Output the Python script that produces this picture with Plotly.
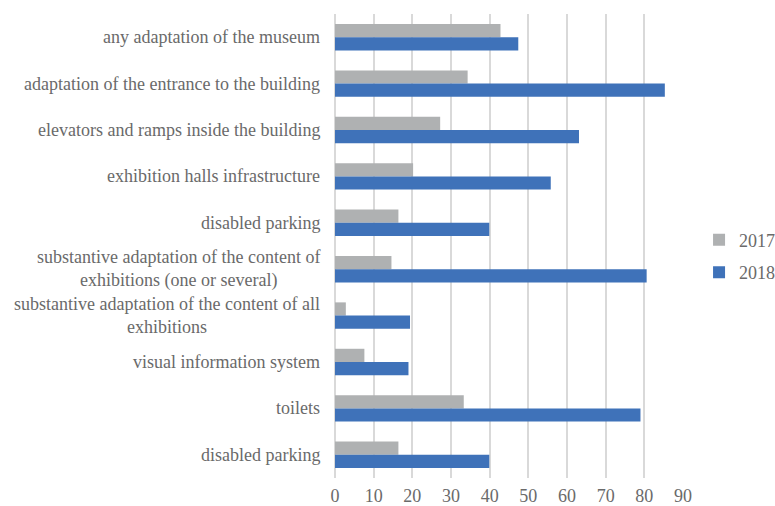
import plotly.graph_objects as go

categories = [
    "any adaptation of the museum",
    "adaptation of the entrance to the building",
    "elevators and ramps inside the building",
    "exhibition halls infrastructure",
    "disabled parking",
    "substantive adaptation of the content of<br>exhibitions (one or several)",
    "substantive adaptation of the content of all<br>exhibitions",
    "visual information system",
    "toilets",
    "disabled parking",
]
values_2017 = [42.8, 34.3, 27.2, 20.2, 16.4, 14.6, 2.8, 7.6, 33.3, 16.4]
values_2018 = [47.4, 85.3, 63.1, 55.8, 39.9, 80.6, 19.4, 19.0, 79.0, 39.9]
x_ticks = [0, 10, 20, 30, 40, 50, 60, 70, 80, 90]

positions = list(range(len(categories)))
FONT = "Liberation Serif"
TXT = "#6A6A6A"
FS = 18

fig = go.Figure()
fig.add_trace(go.Bar(y=positions, x=values_2017, orientation="h", name="2017",
                     marker=dict(color="#AFB1B2", line=dict(width=0)), legendgroup="a"))
fig.add_trace(go.Bar(y=positions, x=values_2018, orientation="h", name="2018",
                     marker=dict(color="#3F72B9", line=dict(width=0)), legendgroup="b"))

annotations = []
for p, c in zip(positions, categories):
    annotations.append(dict(xref="paper", yref="y", x=0, y=p, text=c, showarrow=False,
                            xanchor="right", yanchor="middle", align="center", xshift=-13,
                            font=dict(family=FONT, size=FS, color=TXT)))

fig.update_layout(
    width=775, height=506,
    margin=dict(l=335, r=92, t=14, b=28, autoexpand=False),
    paper_bgcolor="white", plot_bgcolor="white",
    barmode="group", bargap=0.43, bargroupgap=0,
    font=dict(family=FONT, size=FS, color=TXT),
    annotations=annotations,
    legend=dict(xref="container", yref="container", x=0.902, y=0.494,
                xanchor="left", yanchor="middle", traceorder="grouped",
                tracegroupgap=6, font=dict(family=FONT, size=FS, color=TXT),
                itemwidth=30, bgcolor="rgba(0,0,0,0)"),
    xaxis=dict(range=[0, 90], tickvals=x_ticks, showgrid=True, gridcolor="#D9D9D9",
               gridwidth=1.5, zeroline=True, zerolinecolor="#D9D9D9", zerolinewidth=1.5,
               showline=False, ticks="", ticklabelstandoff=5, automargin=False,
               tickfont=dict(family=FONT, size=FS, color=TXT)),
    yaxis=dict(range=[9.5, -0.5], showticklabels=False, showgrid=False, zeroline=False,
               showline=False, ticks="", automargin=False),
)

fig.write_html("out.html")
